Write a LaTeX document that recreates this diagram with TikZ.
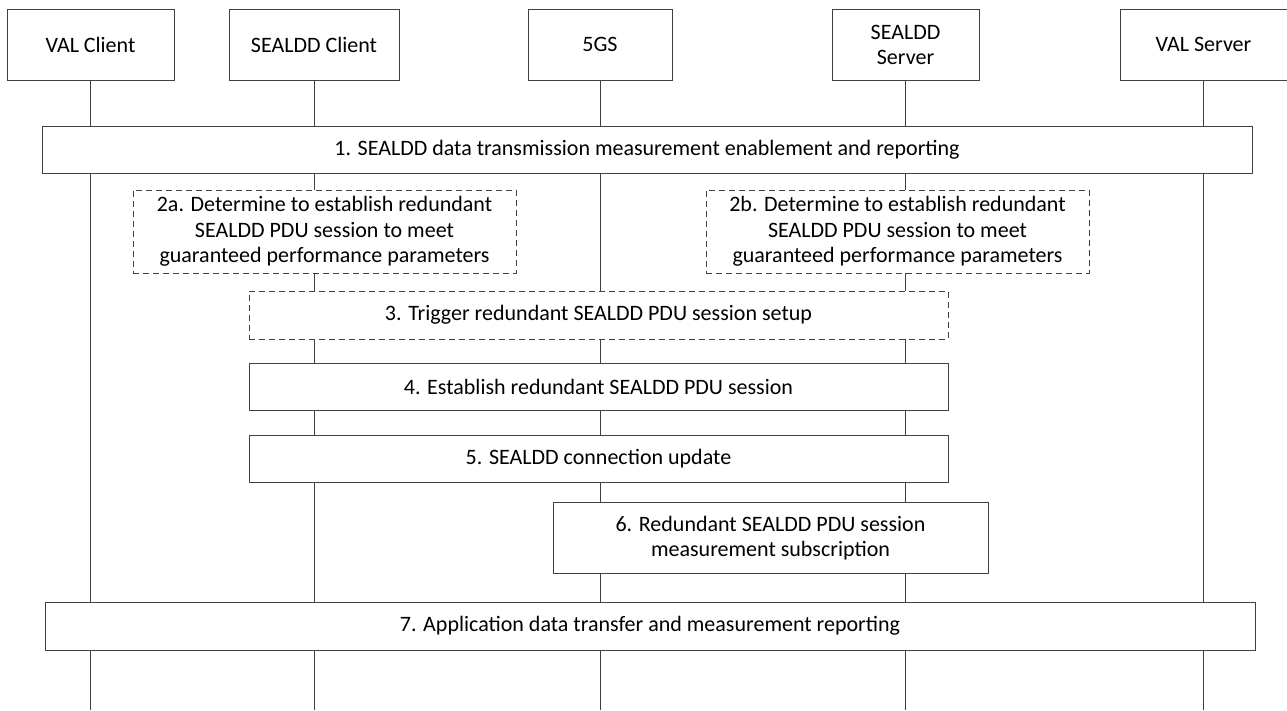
\documentclass[tikz,border=0pt]{standalone}
\usepackage{fontspec}
\setmainfont{Carlito}
\definecolor{linegray}{RGB}{64,64,64}
\tikzset{
  entity/.style={draw=linegray, fill=white, line width=1pt, align=center,
    minimum height=71pt, inner sep=2pt, font=\fontsize{22}{25}\selectfont},
  stepbox/.style={draw=linegray, fill=white, line width=1pt, align=center,
    inner sep=2pt, font=\fontsize{22}{25.5}\selectfont},
  optbox/.style={stepbox, dash pattern=on 6pt off 4pt},
}
\begin{document}
\begin{tikzpicture}[x=1pt,y=-1pt]
  \useasboundingbox (0,0) rectangle (1287,710);
  \coordinate (bottom) at (0,710);

  % entities
  \node[entity, minimum width=167pt] (valc) at (90.5,44.5) {VAL Client};
  \node[entity, minimum width=170pt] (sc)   at (314,44.5)  {SEALDD Client};
  \node[entity, minimum width=144pt] (fgs)  at (600,44.5)  {5GS};
  \node[entity, minimum width=147pt] (ss)   at (905.5,44.5) {SEALDD\\Server};
  \node[entity, minimum width=167pt] (vals) at (1203.5,44.5) {VAL Server};

  % lifelines
  \foreach \e in {valc,sc,fgs,ss,vals} {
    \draw[linegray, line width=1pt] (\e.south) -- (\e.south |- bottom);
  }

  % steps
  \node[stepbox, minimum width=1210pt, minimum height=47pt] (s1) at (647,149.5)
    {1. SEALDD data transmission measurement enablement and reporting};
  \node[optbox, minimum width=383pt, minimum height=83pt] (s2a) at (324.5,231.5)
    {2a. Determine to establish redundant\\SEALDD PDU session to meet\\guaranteed performance parameters};
  \node[optbox, minimum width=383pt, minimum height=83pt] (s2b) at (897.5,231.5)
    {2b. Determine to establish redundant\\SEALDD PDU session to meet\\guaranteed performance parameters};
  \node[optbox, minimum width=699pt, minimum height=48pt] (s3) at (598.5,315)
    {3. Trigger redundant SEALDD PDU session setup};
  \node[stepbox, minimum width=699pt, minimum height=47pt] (s4) at (598.5,386.5)
    {4. Establish redundant SEALDD PDU session};
  \node[stepbox, minimum width=699pt, minimum height=47pt] (s5) at (598.5,458.5)
    {5. SEALDD connection update};
  \node[stepbox, minimum width=435pt, minimum height=71pt] (s6) at (770.5,538)
    {6. Redundant SEALDD PDU session\\measurement subscription};
  \node[stepbox, minimum width=1210pt, minimum height=48pt] (s7) at (650,626)
    {7. Application data transfer and measurement reporting};
\end{tikzpicture}
\end{document}
